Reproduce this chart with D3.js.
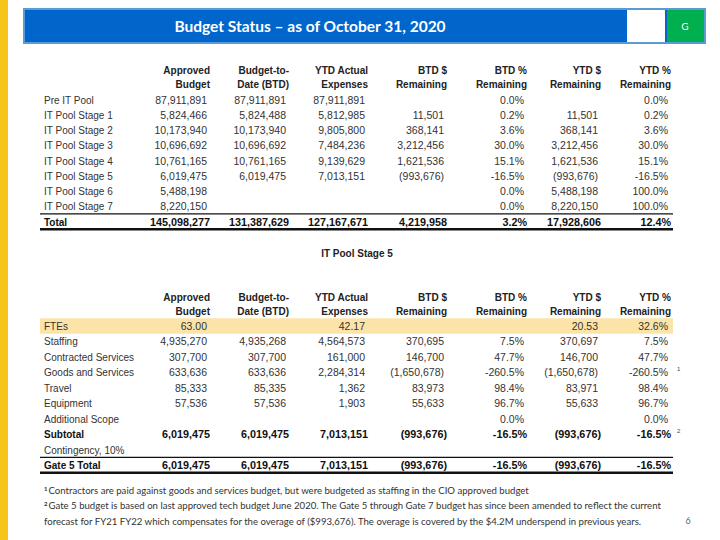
<!DOCTYPE html>
<html><head><meta charset="utf-8">
<script src="https://cdn.jsdelivr.net/npm/d3@7"></script>
<style>body{margin:0;background:#fff}svg{display:block}</style>
</head><body><div id="c"></div>
<script>
// ---------- DATA ----------
const titleText = "Budget Status  \u2013 as of October 31, 2020";
const statusLabel = "G";
const headerLine1 = ["Approved","Budget-to-","YTD Actual","BTD $","BTD %","YTD $","YTD %"];
const headerLine2 = ["Budget","Date (BTD)","Expenses","Remaining","Remaining","Remaining","Remaining"];

// Table 1: pools
const poolLabels = ["Pre IT Pool","IT Pool Stage 1","IT Pool Stage 2","IT Pool Stage 3","IT Pool Stage 4","IT Pool Stage 5","IT Pool Stage 6","IT Pool Stage 7","Total"];
const poolApproved = [87911891,5824466,10173940,10696692,10761165,6019475,5488198,8220150,145098277];
const poolBTD      = [87911891,5824488,10173940,10696692,10761165,6019475,null,null,131387629];
const poolYTDAct   = [87911891,5812985,9805800,7484236,9139629,7013151,null,null,127167671];
const poolBTDRem   = [null,11501,368141,3212456,1621536,-993676,null,null,4219958];
const poolBTDPct   = [0.0,0.2,3.6,30.0,15.1,-16.5,0.0,0.0,3.2];
const poolYTDRem   = [null,11501,368141,3212456,1621536,-993676,5488198,8220150,17928606];
const poolYTDPct   = [0.0,0.2,3.6,30.0,15.1,-16.5,100.0,100.0,12.4];

// Table 2: IT Pool Stage 5
const stageTitle = "IT Pool Stage 5";
const stageLabels = ["FTEs","Staffing","Contracted Services","Goods and Services","Travel","Equipment","Additional Scope","Subtotal","Contingency, 10%","Gate 5 Total"];
const stageApproved = [63.00,4935270,307700,633636,85333,57536,null,6019475,null,6019475];
const stageBTD      = [null,4935268,307700,633636,85335,57536,null,6019475,null,6019475];
const stageYTDAct   = [42.17,4564573,161000,2284314,1362,1903,null,7013151,null,7013151];
const stageBTDRem   = [null,370695,146700,-1650678,83973,55633,null,-993676,null,-993676];
const stageBTDPct   = [null,7.5,47.7,-260.5,98.4,96.7,0.0,-16.5,null,-16.5];
const stageYTDRem   = [20.53,370697,146700,-1650678,83971,55633,null,-993676,null,-993676];
const stageYTDPct   = [32.6,7.5,47.7,-260.5,98.4,96.7,0.0,-16.5,null,-16.5];
const stageBoldRows = ["Subtotal","Gate 5 Total"];
const stageNoteMarks = [["Goods and Services","1"],["Subtotal","2"]];

const footnotes = [
  ["1","Contractors are paid against goods and services budget, but were budgeted as staffing in the CIO approved budget"],
  ["2","Gate 5 budget is based on last approved tech budget   June 2020. The Gate 5 through Gate 7 budget has since been amended to reflect the current"],
  ["","forecast for FY21 FY22 which compensates for the overage of ($993,676). The overage is covered by the $4.2M underspend in previous years."]
];
const pageNumber = "6";

// ---------- DRAW ----------
const W=720,H=540;
const svg=d3.select("#c").append("svg").attr("width",W).attr("height",H);
const FONT="'Liberation Sans', Arial, sans-serif";
const TFONT="Lato, 'Open Sans', sans-serif";

svg.append("rect").attr("x",0).attr("y",0).attr("width",8).attr("height",H).attr("fill","#F5C518");

// title bar
svg.append("rect").attr("x",24).attr("y",9).attr("width",681).attr("height",34)
  .attr("fill","#0066CC").attr("stroke","#5B9BD5").attr("stroke-width",2);
svg.append("rect").attr("x",627).attr("y",10).attr("width",38).attr("height",32).attr("fill","#fff");
svg.append("rect").attr("x",667).attr("y",10).attr("width",37).attr("height",32).attr("fill","#00B050");
svg.append("text").attr("x",310).attr("y",32).attr("text-anchor","middle").attr("fill","#fff")
  .attr("font-family",TFONT).attr("font-weight","bold").attr("font-size",15.5).text(titleText);
svg.append("text").attr("x",685).attr("y",30).attr("text-anchor","middle").attr("fill","#fff")
  .attr("font-family",TFONT).attr("font-size",10).text(statusLabel);

const colRight=[210,289,368,447,527,601,671];
const labelX=44, lineX0=40, lineX1=673;

const loc=d3.formatLocale({decimal:".",thousands:",",grouping:[3],currency:["$",""],minus:"-"});
const fmtInt=loc.format(",.0f");
function fmtMoney(v){ if(v==null) return ""; return v<0?"("+fmtInt(-v)+")":fmtInt(v); }
function fmtPct(v){ if(v==null) return ""; return loc.format(".1f")(v)+"%"; }
function fmtFte(v){ if(v==null) return ""; return loc.format(".2f")(v); }

function drawTable(opt){
  const g=svg.append("g");
  headerLine1.forEach((h,i)=>{
    g.append("text").attr("x",colRight[i]).attr("y",opt.headY).attr("text-anchor","end")
      .attr("font-family",FONT).attr("font-weight","bold").attr("font-size",10).attr("fill","#222").text(h);
    g.append("text").attr("x",colRight[i]).attr("y",opt.headY+14).attr("text-anchor","end")
      .attr("font-family",FONT).attr("font-weight","bold").attr("font-size",10).attr("fill","#222").text(headerLine2[i]);
  });
  const y=d3.scalePoint().domain(opt.labels).range([opt.firstY,opt.lastY]);
  const step=y.step();
  if(opt.highlight){
    g.append("rect").attr("x",lineX0).attr("y",y(opt.highlight)-step/2).attr("width",lineX1-lineX0).attr("height",step)
      .attr("fill","#FCE4A8");
  }
  opt.labels.forEach((lab,r)=>{
    const bold=opt.bold.includes(lab);
    const yy=y(lab)+4;
    g.append("text").attr("x",labelX).attr("y",yy).attr("font-family",FONT).attr("font-size",10)
      .attr("font-weight",bold?"bold":"normal").attr("fill",bold?"#111":"#333").text(lab);
    opt.cols.forEach((col,c)=>{
      const f=opt.fmts[c](col[r],r);
      if(!f) return;
      g.append("text").attr("x",colRight[c]-(bold?0:3)).attr("y",yy).attr("text-anchor","end")
        .attr("font-family",FONT).attr("font-size",bold?10.8:10.5)
        .attr("font-weight",bold?"bold":"normal").attr("fill",bold?"#111":"#333").text(f);
    });
  });
  const last=opt.labels[opt.labels.length-1];
  g.append("line").attr("x1",lineX0).attr("x2",lineX1).attr("y1",y(last)-step/2).attr("y2",y(last)-step/2)
    .attr("stroke","#111").attr("stroke-width",1.2);
  g.append("line").attr("x1",lineX0).attr("x2",lineX1).attr("y1",y(last)+step/2).attr("y2",y(last)+step/2)
    .attr("stroke","#111").attr("stroke-width",2.5);
  return y;
}

const poolFmts=[fmtMoney,fmtMoney,fmtMoney,fmtMoney,fmtPct,fmtMoney,fmtPct];
drawTable({labels:poolLabels,headY:74,firstY:99.5,lastY:221.5,
  cols:[poolApproved,poolBTD,poolYTDAct,poolBTDRem,poolBTDPct,poolYTDRem,poolYTDPct],
  fmts:poolFmts,bold:["Total"],highlight:null});

svg.append("text").attr("x",357).attr("y",257).attr("text-anchor","middle").attr("font-family",FONT)
  .attr("font-weight","bold").attr("font-size",10).attr("fill","#222").text(stageTitle);

const fteAware=(fm)=>(v,r)=> r===0 ? fmtFte(v) : fm(v);
const stageFmts=[fteAware(fmtMoney),fteAware(fmtMoney),fteAware(fmtMoney),fteAware(fmtMoney),fmtPct,fteAware(fmtMoney),fmtPct];
const y2=drawTable({labels:stageLabels,headY:301,firstY:326,lastY:465,
  cols:[stageApproved,stageBTD,stageYTDAct,stageBTDRem,stageBTDPct,stageYTDRem,stageYTDPct],
  fmts:stageFmts,bold:stageBoldRows,highlight:"FTEs"});
stageNoteMarks.forEach(([lab,m])=>{
  svg.append("text").attr("x",677).attr("y",y2(lab)-1).attr("font-family",FONT).attr("font-size",6)
    .attr("fill","#444").text(m);
});

// footnotes
footnotes.forEach((fn,i)=>{
  const t=svg.append("text").attr("x",44).attr("y",494+i*15.3).attr("font-family",TFONT)
    .attr("font-size",9.6).attr("fill","#333");
  if(fn[0]) t.append("tspan").attr("font-size",6).attr("font-weight","bold").attr("dy",-3).text(fn[0]);
  t.append("tspan").attr("dy",fn[0]?3:0).attr("dx",fn[0]?1:0).text(fn[1]);
});
svg.append("text").attr("x",688).attr("y",524).attr("text-anchor","middle").attr("font-family",TFONT)
  .attr("font-size",9).attr("fill","#666").text(pageNumber);
</script></body></html>
